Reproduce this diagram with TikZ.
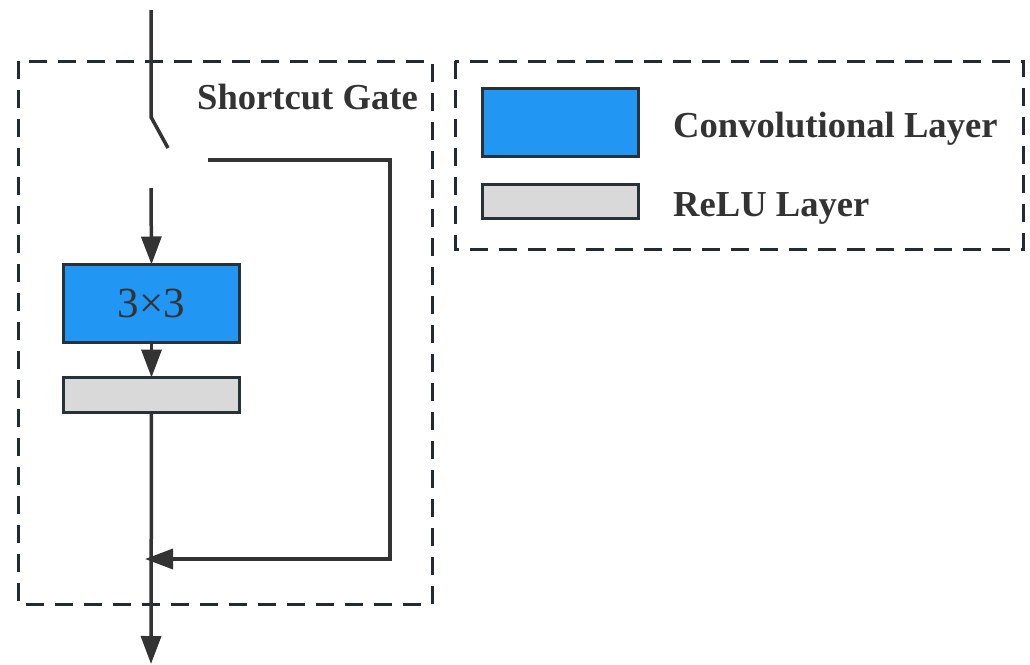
\documentclass[tikz,border=0pt]{standalone}
\usepackage{fontspec}
\setmainfont{Liberation Serif}
\usetikzlibrary{arrows.meta}
\definecolor{wire}{HTML}{333333}
\definecolor{frame}{HTML}{222A33}
\definecolor{edge}{HTML}{263238}
\definecolor{convblue}{HTML}{2196F3}
\definecolor{relugray}{HTML}{D9D9D9}
\tikzset{
  wireline/.style={draw=wire, line width=3.5pt},
  flow/.style={wireline, -{Triangle[length=28pt,width=20pt]}},
  groupbox/.style={draw=frame, line width=3pt, dash pattern=on 18pt off 11pt},
  layerbox/.style={draw=edge, line width=3pt, inner sep=0pt, outer sep=0pt},
  convbox/.style={layerbox, fill=convblue},
  relubox/.style={layerbox, fill=relugray},
  boldlabel/.style={text=wire, font=\fontsize{36.6}{40}\selectfont\bfseries, inner sep=0pt},
}
\begin{document}
\begin{tikzpicture}[x=1pt, y=-1pt]
\useasboundingbox (0,0) rectangle (1030,664);

% grouping frames
\draw[groupbox] (18,61) rectangle (432,604);
\draw[groupbox] (455,61) rectangle (1023,249);

% layers
\node[convbox, minimum width=176pt, minimum height=78pt,
      font=\fontsize{43}{46}\selectfont, text=wire] (conv) at (151.5,303.5) {3×3};
\node[relubox, minimum width=176pt, minimum height=35pt] (relu) at (151.5,395) {};

% switch and wiring
\coordinate (in) at (151,10);
\coordinate (pivot) at (151,117);
\coordinate (blade) at (168,148);
\coordinate (contact) at (151,188);
\coordinate (skip) at (208,160);
\coordinate (merge) at (145,559);
\coordinate (out) at (151,664);

\draw[wireline] (in) -- (pivot) -- (blade);
\draw[flow] (contact) -- (conv.north);
\draw[flow] (conv.south) -- (relu.north);
\draw[flow] (relu.south) -- (out);
\draw[flow] (skip) -| (390,559) -- (merge);

\node[boldlabel, anchor=base west] (gatelabel) at (197,109) {Shortcut Gate};

% legend
\node[convbox, minimum width=156pt, minimum height=68pt] (legconv) at (560.5,122.5) {};
\node[relubox, minimum width=156pt, minimum height=34pt] (legrelu) at (560.5,201.5) {};
\node[boldlabel, anchor=base west] (legconvtext) at (673,137) {Convolutional Layer};
\node[boldlabel, anchor=base west] (legrelutext) at (673,216) {ReLU Layer};
\end{tikzpicture}
\end{document}
